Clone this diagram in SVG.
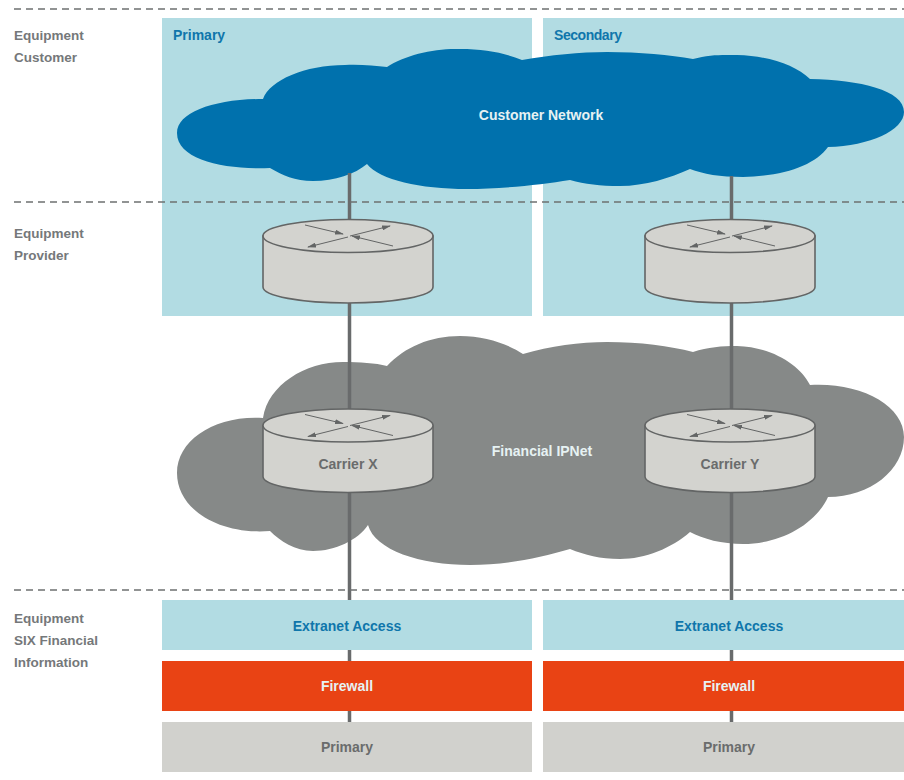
<svg xmlns="http://www.w3.org/2000/svg" width="904" height="780" viewBox="0 0 904 780">
<style>
text{font-family:"Liberation Sans",Arial,sans-serif;font-weight:700;font-size:14px}
.lab{fill:#75787a;font-size:13.5px}
.blue{fill:#0f76ab}
.w{fill:#e6f2f3;text-anchor:middle}
.c{text-anchor:middle}
.dk{fill:#6a6c6c}
.dash{stroke:#6e7070;stroke-width:1.6;stroke-dasharray:7 5;fill:none}
.conn{stroke:#696b6c;stroke-width:3.5;fill:none}
.zone{fill:#b2dce3}
.fw{fill:#e94314}
.pr{fill:#d1d1cd}
.rb{fill:#d3d3cf;stroke:#636565;stroke-width:1.6}
.ra{stroke:#636565;stroke-width:1;fill:none;marker-end:url(#ah)}
</style>
<defs>
<marker id="ah" markerUnits="userSpaceOnUse" markerWidth="9" markerHeight="5" refX="8" refY="2.5" orient="auto"><path d="M0 0L9 2.500L0 5Z" fill="#636565"/></marker>
<g id="router">
<path class="rb" d="M-85 0V51C-85 60 -47 67 0 67S85 60 85 51V0Z"/>
<ellipse class="rb" cx="0" cy="0" rx="85" ry="16.500"/>
<path class="ra" d="M-43 -11L-5 -2"/>
<path class="ra" d="M2 0L42 -10"/>
<path class="ra" d="M0 1L-40 11"/>
<path class="ra" d="M45 10L4 0"/>
</g>
</defs>
<g id="zones">
<rect class="zone" x="162" y="18" width="370" height="298"/>
<rect class="zone" x="543" y="18" width="361" height="298"/>
</g>
<g id="customer-network">
<path fill="#0071ad" d="M263 99C270 80 305 65 345 65C360 64 375 66 387 67C405 55 435 48 460 49C485 49 505 53 522 60C550 55 580 52 607 52C640 52 670 55 693 59C710 54 725 55 737 55C770 56 795 65 810 79C860 80 904 90 904 112C904 130 870 146 828 147C815 165 785 176 743 177C720 177 703 174 690 169C670 178 645 186 620 186C600 186 585 184 570 180C540 185 500 189 467 189C420 189 380 180 367 164C355 174 335 181 313 181C295 181 282 175 270 168C225 170 177 160 177 133C177 112 215 99 263 99Z"/>
<text class="w" x="541" y="120">Customer Network</text>
</g>
<g id="financial-ipnet">
<path fill="#868988" d="M263 418C268 385 305 362 343 362C360 362 375 363 387 366C405 347 430 336 460 336C485 336 508 344 523 354C550 346 580 342 607 342C640 342 670 346 693 352C708 347 722 346 737 346C772 347 800 365 810 385C860 382 904 405 904 437C904 470 870 497 828 497C815 525 780 544 743 544C722 544 703 539 690 532C672 548 645 559 620 559C600 559 585 555 570 549C540 558 505 565 470 565C420 565 375 550 368 525C358 540 335 551 313 551C295 551 280 541 270 531C220 535 177 510 177 473C177 440 215 415 263 418Z"/>
<text class="w" x="542" y="456">Financial IPNet</text>
</g>
<g id="connectors">
<path class="conn" d="M349.500 173V222M349.500 300V412M349.500 490V600M349.500 650V662M349.500 711V722"/>
<path class="conn" d="M731.500 176V222M731.500 300V412M731.500 490V600M731.500 650V662M731.500 711V722"/>
</g>
<g id="separators">
<path class="dash" d="M14 9H904"/>
<path class="dash" d="M14 202H904"/>
<path class="dash" d="M14 590H904"/>
</g>
<g id="router-1"><use href="#router" x="348" y="236"/></g>
<g id="router-2"><use href="#router" x="730" y="236"/></g>
<g id="carrier-x"><use href="#router" x="348" y="425.500"/><text class="c dk" x="348" y="469">Carrier X</text></g>
<g id="carrier-y"><use href="#router" x="730" y="425.500"/><text class="c dk" x="730" y="469">Carrier Y</text></g>
<g id="labels">
<text class="blue" x="173" y="40">Primary</text>
<text class="blue" x="554" y="40" textLength="68">Secondary</text>
<text class="lab" x="14" y="40">Equipment</text>
<text class="lab" x="14" y="62">Customer</text>
<text class="lab" x="14" y="238">Equipment</text>
<text class="lab" x="14" y="260">Provider</text>
<text class="lab" x="14" y="623">Equipment</text>
<text class="lab" x="14" y="645">SIX Financial</text>
<text class="lab" x="14" y="667">Information</text>
</g>
<g id="extranet-1"><rect class="zone" x="162" y="600" width="370" height="50"/><text class="blue c" x="347" y="631">Extranet Access</text></g>
<g id="firewall-1"><rect class="fw" x="162" y="661" width="370" height="50"/><text class="w" x="347" y="691">Firewall</text></g>
<g id="primary-1"><rect class="pr" x="162" y="722" width="370" height="50"/><text class="c dk" x="347" y="752">Primary</text></g>
<g id="extranet-2"><rect class="zone" x="543" y="600" width="361" height="50"/><text class="blue c" x="729" y="631">Extranet Access</text></g>
<g id="firewall-2"><rect class="fw" x="543" y="661" width="361" height="50"/><text class="w" x="729" y="691">Firewall</text></g>
<g id="primary-2"><rect class="pr" x="543" y="722" width="361" height="50"/><text class="c dk" x="729" y="752">Primary</text></g>
</svg>
